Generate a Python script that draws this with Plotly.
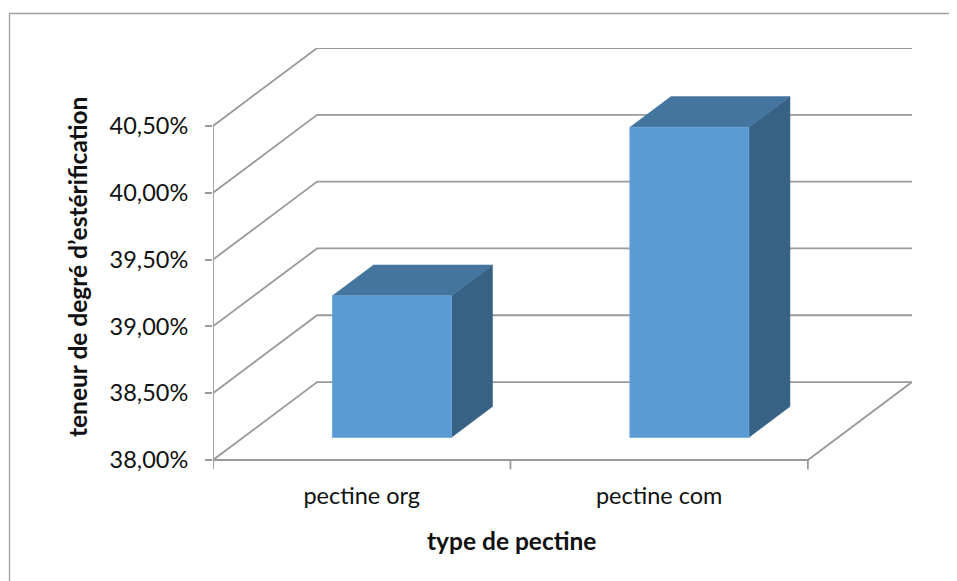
import plotly.graph_objects as go

# ---- data ----
categories = ["pectine org", "pectine com"]
values = [39.06, 40.32]            # % degré d'estérification
tick_values = [38.0, 38.5, 39.0, 39.5, 40.0, 40.5]
tick_labels = ["38,00%", "38,50%", "39,00%", "39,50%", "40,00%", "40,50%"]
x_title = "type de pectine"
y_title = "teneur de degré d’estérification"

# ---- 3D oblique projection parameters (data units) ----
BASE = tick_values[0]
TOP = tick_values[-1]
DX = 0.35      # depth offset along x (category units) for full depth
DY = 0.583     # depth offset along y (value units) for full depth
BAR_W = 0.4    # bar width (category units)
F_FRONT = 0.29 # front face depth fraction
F_DEPTH = 0.395

GRID = "#9a9a9a"
FRONT = "#5b9bd5"
TOPC = "#44759f"
SIDE = "#386285"


def proj(x, y, d):
    return x + d * DX, y + d * DY


fig = go.Figure()


def seg(pts, color=GRID, width=1.8):
    xs = [p[0] for p in pts]
    ys = [p[1] for p in pts]
    fig.add_trace(go.Scatter(x=xs, y=ys, mode="lines",
                             line=dict(color=color, width=width),
                             hoverinfo="skip", showlegend=False))


n = len(categories)
# walls / gridlines
for v in tick_values:
    seg([proj(0, v, 0), proj(0, v, 1), proj(n, v, 1)])
# floor front + right edge
seg([proj(0, BASE, 0), proj(n, BASE, 0), proj(n, BASE, 1)])
# left axis line
seg([proj(0, BASE, 0), proj(0, TOP, 0)])
# category ticks on floor front
tick_drop = 0.07
for i in range(n + 1):
    seg([(i, BASE), (i, BASE - tick_drop)])

# bars
for i, (cat, v) in enumerate(zip(categories, values)):
    cx = i + 0.5
    x0 = cx - BAR_W / 2
    x1 = cx + BAR_W / 2
    f0 = F_FRONT
    f1 = F_FRONT + F_DEPTH
    # side face
    pts = [proj(x1, BASE, f0), proj(x1, BASE, f1), proj(x1, v, f1), proj(x1, v, f0), proj(x1, BASE, f0)]
    fig.add_trace(go.Scatter(x=[p[0] for p in pts], y=[p[1] for p in pts], mode="lines",
                             fill="toself", fillcolor=SIDE, line=dict(color=SIDE, width=0.5),
                             hoverinfo="skip", showlegend=False))
    # top face
    pts = [proj(x0, v, f0), proj(x1, v, f0), proj(x1, v, f1), proj(x0, v, f1), proj(x0, v, f0)]
    fig.add_trace(go.Scatter(x=[p[0] for p in pts], y=[p[1] for p in pts], mode="lines",
                             fill="toself", fillcolor=TOPC, line=dict(color=TOPC, width=0.5),
                             hoverinfo="skip", showlegend=False))
    # front face
    pts = [proj(x0, BASE, f0), proj(x1, BASE, f0), proj(x1, v, f0), proj(x0, v, f0), proj(x0, BASE, f0)]
    fig.add_trace(go.Scatter(x=[p[0] for p in pts], y=[p[1] for p in pts], mode="lines",
                             fill="toself", fillcolor=FRONT, line=dict(color="#6aa6dc", width=0.8),
                             hoverinfo="text", text=f"{cat}: {v:.2f}%".replace(".", ","),
                             showlegend=False))

OFF = 8  # page body margin
W, H = 957 - OFF, 581 - OFF
L, R, T, B = 205, 45, 40, 111
pw = W - L - R
ph = H - T - B


def px_to_paper(px, py):
    # screen px -> paper coords
    return (px - OFF - L) / pw, (H - B - (py - OFF)) / ph


font = "Lato, Open Sans, sans-serif"

bx0, by0 = px_to_paper(9.5, 13.5)
bx1, by1 = px_to_paper(990, 610)
fig.add_shape(type="rect", xref="paper", yref="paper", x0=bx0, y0=by1, x1=bx1, y1=by0,
              line=dict(color="#a0a0a0", width=1.3), fillcolor="rgba(0,0,0,0)", layer="below")

ax, ay = px_to_paper(77, 267)
fig.add_annotation(text=f"<b>{y_title}</b>", xref="paper", yref="paper", x=ax, y=ay,
                   xanchor="center", yanchor="middle",
                   textangle=-90, showarrow=False, font=dict(family=font, size=24.5, color="#111"))
tx, ty = px_to_paper(511, 540)
fig.add_annotation(text=f"<b>{x_title}</b>", xref="paper", yref="paper", x=tx, y=ty,
                   xanchor="center", yanchor="middle",
                   showarrow=False, font=dict(family=font, size=24.5, color="#111"))

fig.update_layout(
    width=W, height=H,
    margin=dict(l=L, r=R, t=T, b=B, pad=0),
    plot_bgcolor="white", paper_bgcolor="white",
    xaxis=dict(range=[0, n + DX], tickvals=[i + 0.5 for i in range(n)], ticktext=categories,
               showgrid=False, zeroline=False, showline=False, ticks="",
               tickfont=dict(family=font, size=23.5, color="#111"), ticklabelstandoff=9,
               fixedrange=True),
    yaxis=dict(range=[BASE - tick_drop - 0.005, TOP + DY], tickvals=tick_values, ticktext=tick_labels,
               showgrid=False, zeroline=False, showline=False, ticks="outside", ticklen=7,
               tickcolor=GRID, tickwidth=1.8,
               tickfont=dict(family=font, size=23.5, color="#111"), ticklabelstandoff=12,
               fixedrange=True),
)

fig.write_html("out.html")
